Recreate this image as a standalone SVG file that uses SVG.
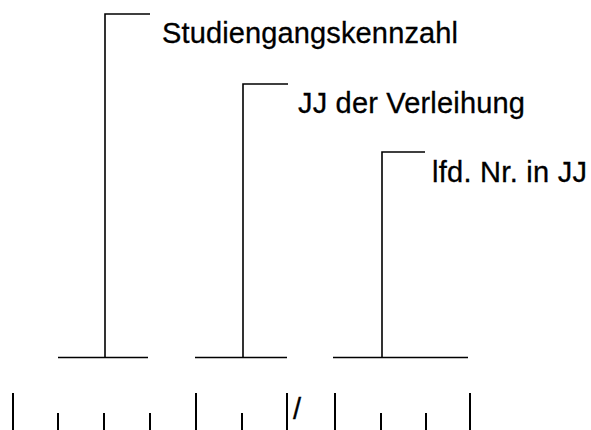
<svg xmlns="http://www.w3.org/2000/svg" width="591" height="430" viewBox="0 0 591 430">
  <style>
    .ln { stroke: #000; stroke-width: 1.6; fill: none; }
    .tk { stroke: #000; stroke-width: 2; fill: none; }
    .lbl { font-family: "Liberation Sans", Arial, sans-serif; font-size: 29px; fill: #000; stroke: #000; stroke-width: 0.3; }
  </style>
  <rect width="591" height="430" fill="#fff"/>

  <!-- Labels with their bracket leaders -->
  <g id="studiengang">
    <text class="lbl" x="162" y="43" textLength="296" lengthAdjust="spacing">Studiengangskennzahl</text>
  </g>
  <g id="jahr">
    <text class="lbl" x="298" y="113" textLength="227" lengthAdjust="spacing">JJ der Verleihung</text>
  </g>
  <g id="laufnummer">
    <text class="lbl" x="432" y="182" textLength="155" lengthAdjust="spacing">lfd. Nr. in JJ</text>
  </g>

  <g id="connectors">
    <!-- bracket 1 -->
    <path class="ln" d="M150,14 H105 V357"/>
    <path class="ln" d="M58,357.5 H148"/>
    <!-- bracket 2 -->
    <path class="ln" d="M288,84 H243 V357"/>
    <path class="ln" d="M195,357.5 H287"/>
    <!-- bracket 3 -->
    <path class="ln" d="M425,152 H382 V357"/>
    <path class="ln" d="M333,357.5 H468"/>
  </g>

  <!-- digit field ticks -->
  <g id="ticks">
    <path class="tk" d="M13,393 V430 M58,413 V430 M104,413 V430 M150,413 V430 M196,393 V430 M242,413 V430 M287,393 V430 M335,393 V430 M381,413 V430 M426,413 V430 M470,393 V430"/>
    <text class="lbl" x="293" y="419" font-size="29">/</text>
  </g>
</svg>
